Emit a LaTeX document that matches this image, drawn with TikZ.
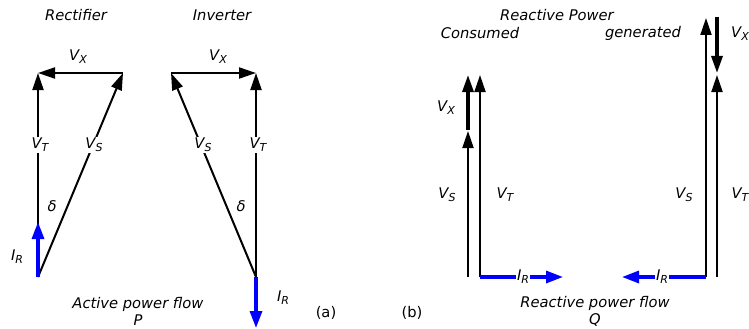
\documentclass[tikz,border=0pt]{standalone}
\usepackage{fontspec}
\setmainfont{DejaVu Sans}
\usepackage{xcolor}
\usepackage{tikz}
\usetikzlibrary{arrows.meta, positioning}
\definecolor{currblue}{HTML}{0000FF}
\tikzstyle{phasor} = [line width=2pt, -{Triangle[length=17pt, width=11pt]}]
\tikzstyle{thickphasor} = [phasor, line width=3.2pt]
\tikzstyle{current} = [line width=3.2pt, color=currblue, -{Triangle[length=17pt, width=12pt]}]
\tikzstyle{lbl} = [font=\fontsize{14.7}{17}\selectfont\itshape, inner sep=1pt]
\tikzstyle{onlbl} = [lbl, fill=white]
\tikzstyle{tag} = [font=\fontsize{14.7}{17}\selectfont, inner sep=1pt]
\newcommand{\phs}[2]{#1\raisebox{-0.35ex}{\fontsize{11}{12}\selectfont #2}}

\begin{document}
\begin{tikzpicture}[x=1pt, y=-1pt]
    \useasboundingbox (0,0) rectangle (749,329);

    % (a) rectifier
    \coordinate (rO) at (38,277);
    \coordinate (rT) at (38,73);
    \coordinate (rS) at (123,73);
    \coordinate (rI) at (38,222);
    \draw [phasor] (rO) -- (rT);
    \draw [phasor] (rO) -- (rS);
    \draw [phasor] (rS) -- (rT);
    \draw [current] (rO) -- (rI);

    % (a) inverter
    \coordinate (iO) at (256,277);
    \coordinate (iT) at (256,73);
    \coordinate (iS) at (171,73);
    \coordinate (iI) at (256,328);
    \draw [phasor] (iO) -- (iT);
    \draw [phasor] (iO) -- (iS);
    \draw [phasor] (iS) -- (iT);
    \draw [current] (iO) -- (iI);

    % (b) consumed
    \coordinate (cS0) at (468,277);
    \coordinate (cS) at (468,131);
    \coordinate (cX0) at (468,130);
    \coordinate (cX) at (468,75);
    \coordinate (cT0) at (480,277);
    \coordinate (cT) at (480,75);
    \coordinate (cI) at (563,277);
    \draw [phasor] (cS0) -- (cS);
    \draw [thickphasor] (cX0) -- (cX);
    \draw [phasor] (cT0) -- (cT);
    \draw [current] (cT0) -- (cI);

    % (b) generated
    \coordinate (gS0) at (706,277);
    \coordinate (gS) at (706,18);
    \coordinate (gX0) at (717,17);
    \coordinate (gX) at (717,73);
    \coordinate (gT0) at (717,277);
    \coordinate (gT) at (717,75);
    \coordinate (gI) at (622,277);
    \draw [phasor] (gS0) -- (gS);
    \draw [thickphasor] (gX0) -- (gX);
    \draw [phasor] (gT0) -- (gT);
    \draw [current] (gS0) -- (gI);

    % labels (a)
    \node (rect) [lbl] at (76,15) {Rectifier};
    \node (inv) [lbl] at (222,15) {Inverter};
    \node (rVx) [lbl] at (78,57) {\phs{V}{X}};
    \node (iVx) [lbl] at (218,57) {\phs{V}{X}};
    \node (rVt) [onlbl] at (40,145) {\phs{V}{T}};
    \node (rVs) [onlbl] at (94,145) {\phs{V}{S}};
    \node (iVs) [onlbl] at (203,145) {\phs{V}{S}};
    \node (iVt) [onlbl] at (258,145) {\phs{V}{T}};
    \node (rd) [lbl] at (52,206) {δ};
    \node (id) [lbl] at (241,206) {δ};
    \node (rIr) [lbl] at (17,257) {\phs{I}{R}};
    \node (iIr) [lbl] at (283,298) {\phs{I}{R}};
    \node (actP) [lbl, align=center] at (138,311) {Active power flow\\P};
    \node (capa) [tag] at (326,313) {(a)};
    \node (capb) [tag] at (412,313) {(b)};

    % labels (b)
    \node (reac) [lbl] at (557,15) {Reactive Power};
    \node (cons) [lbl] at (480,33) {Consumed};
    \node (gen) [lbl] at (643,33) {generated};
    \node (gVx) [lbl] at (740,34) {\phs{V}{X}};
    \node (cVx) [lbl] at (446,108) {\phs{V}{X}};
    \node (cVs) [lbl] at (447,195) {\phs{V}{S}};
    \node (cVt) [lbl] at (505,195) {\phs{V}{T}};
    \node (gVs) [lbl] at (684,195) {\phs{V}{S}};
    \node (gVt) [lbl] at (740,195) {\phs{V}{T}};
    \node (cIr) [onlbl] at (523,277) {\phs{I}{R}};
    \node (gIr) [onlbl] at (662,277) {\phs{I}{R}};
    \node (reaQ) [lbl, align=center] at (595,311) {Reactive power flow\\Q};
\end{tikzpicture}
\end{document}
